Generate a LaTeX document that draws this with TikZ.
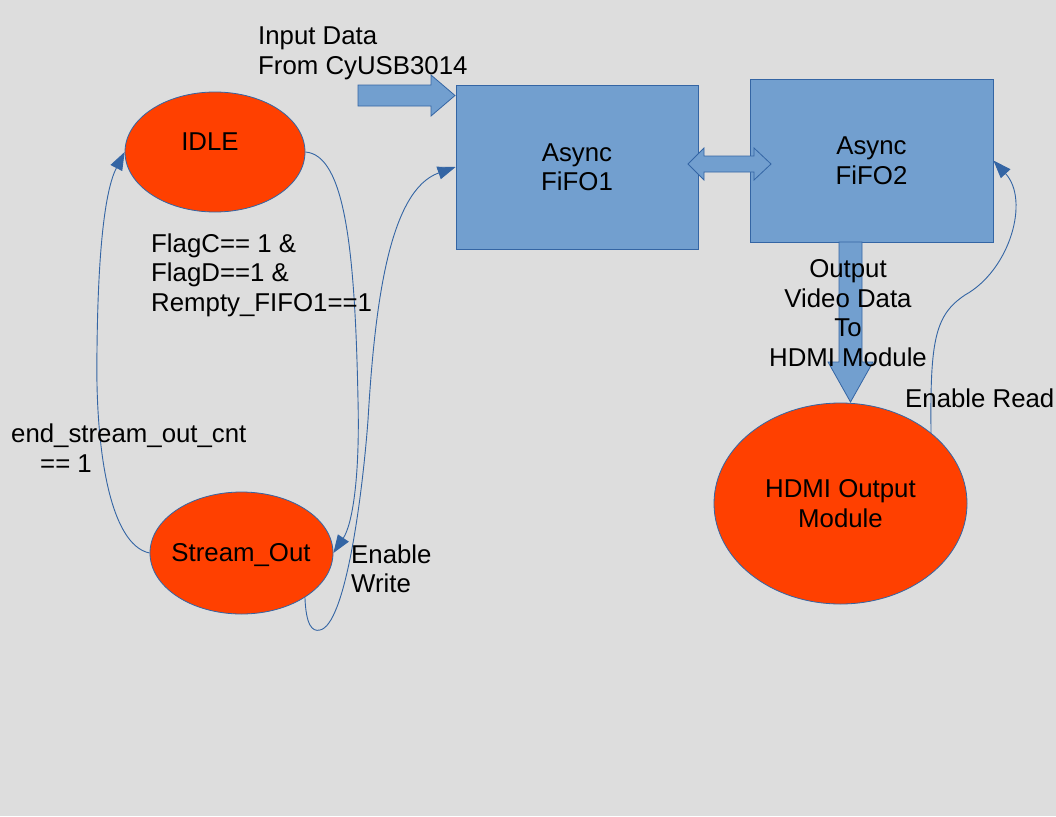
\documentclass[tikz,border=0pt]{standalone}
\usepackage{fontspec}
\setmainfont{Liberation Sans}
\usetikzlibrary{shapes.geometric,arrows.meta}
\definecolor{bg}{HTML}{DDDDDD}
\definecolor{redfill}{HTML}{FF4000}
\definecolor{bluefill}{HTML}{729FCF}
\definecolor{bluedraw}{HTML}{3465A4}
\begin{document}
\begin{tikzpicture}[x=1pt,y=-1pt, font=\fontsize{25.8}{29.5}\selectfont,
 state/.style={ellipse, draw=bluedraw, fill=redfill, line width=0.8pt, inner sep=0pt, align=center},
 fifo/.style={rectangle, draw=bluedraw, fill=bluefill, line width=0.8pt, inner sep=0pt, align=center},
 blockarrow/.style={draw=bluedraw, fill=bluefill, line width=0.8pt, line join=miter},
 conn/.style={draw=bluedraw, line width=0.9pt, -{Triangle[length=18pt,width=13pt]}},
 txt/.style={inner sep=0pt, text=black}]
\fill[bg] (0,0) rectangle (1056,816);
\useasboundingbox (0,0) rectangle (1056,816);

% shapes
\node[state, minimum width=180pt, minimum height=120pt] (idle) at (215,152) {};
\node[txt] (idlet) at (210,142) {IDLE};
\node[state, minimum width=183pt, minimum height=122pt] (so) at (241.5,553) {};
\node[txt] (sot) at (241,555) {Stream\_Out};
\node[state, minimum width=253pt, minimum height=201pt] (hdmi) at (840.5,503.5) {HDMI Output\\Module};
\node[fifo, minimum width=242pt, minimum height=164pt] (f1) at (577,167) {Async\\FiFO1};
\node[fifo, minimum width=243pt, minimum height=163pt] (f2) at (871.5,160.5) {Async\\FiFO2};

% block arrows
\draw[blockarrow] (358,85) -- (431,85) -- (431,75) -- (455,95.5) -- (431,116) -- (431,106) -- (358,106) -- cycle;
\draw[blockarrow] (688,164) -- (704,148) -- (704,156) -- (754,156) -- (754,148) -- (771,164) -- (754,180) -- (754,172) -- (704,172) -- (704,180) -- cycle;
\draw[blockarrow] (839,242) -- (862,242) -- (862,362) -- (873,362) -- (850.5,402) -- (828,362) -- (839,362) -- cycle;

% connectors
\draw[conn] (idle.east) .. controls (345,155) and (355,250) .. (358,400) .. controls (360,480) and (352,525) .. (so.east);
\draw[conn] (so.-35) .. controls (306,625) and (312,632) .. (320,630) .. controls (345,625) and (362,500) .. (368,420) .. controls (375,300) and (390,190) .. (f1.west);
\draw[conn] (so.west) .. controls (110,545) and (95,450) .. (97,350) .. controls (98,250) and (105,190) .. (idle.west);
\draw[conn] (hdmi.38) .. controls (930,340) and (935,315) .. (965,295) .. controls (1010,270) and (1030,200) .. (f2.east);

% texts
\node[txt, anchor=west, align=left] (inp) at (258,53.5) {Input Data\\From CyUSB3014};
\node[txt, anchor=west, align=left] (cond1) at (151,275) {FlagC== 1 \&\\FlagD==1 \&\\Rempty\_FIFO1==1};
\node[txt, anchor=west, align=left] (cond2) at (11,448) {end\_stream\_out\_cnt\\\hspace*{29pt}== 1};
\node[txt, anchor=west, align=left] (ew) at (351,569) {Enable\\Write};
\node[txt, align=center] (ov) at (848,313) {Output\\Video Data\\To\\HDMI Module};
\node[txt, anchor=west] (er) at (905,398) {Enable Read};
\end{tikzpicture}
\end{document}
